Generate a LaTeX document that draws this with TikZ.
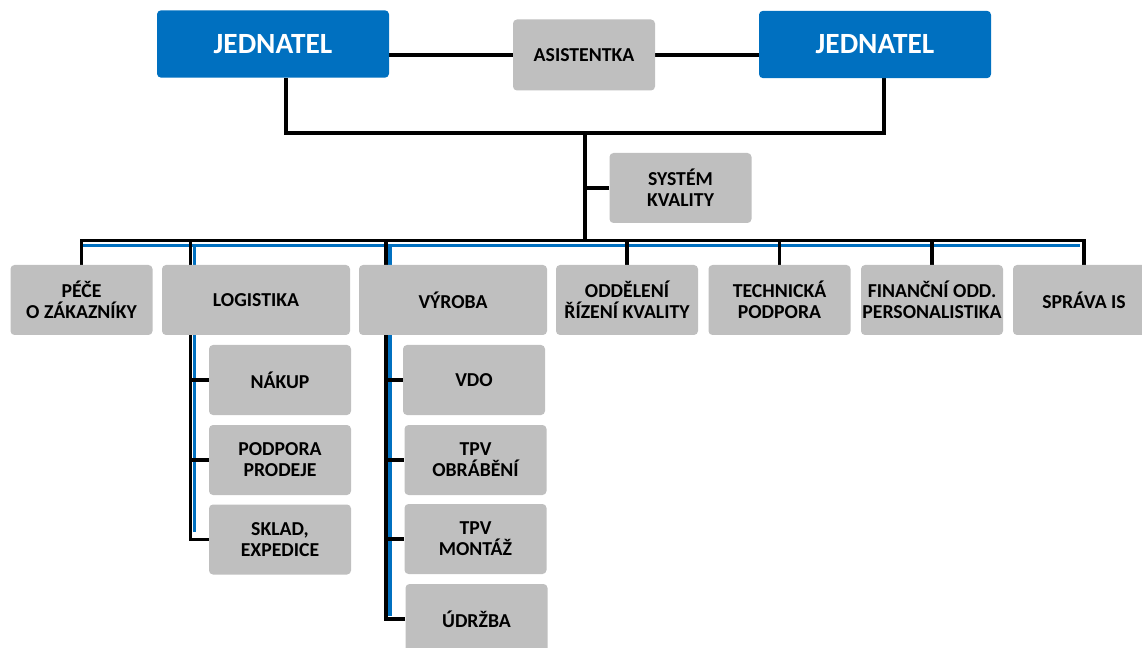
\documentclass[tikz,border=0pt]{standalone}
\usepackage{fontspec}
\setmainfont{Carlito}
\usetikzlibrary{positioning}
\usetikzlibrary{backgrounds}

\definecolor{boss}{HTML}{0070C0}
\definecolor{dept}{HTML}{BFBFBF}

\tikzset{
  unit/.style={fill=dept, rounded corners=3pt, minimum width=106.5pt, minimum height=52.5pt,
    inner sep=1pt, align=center, font=\bfseries\fontsize{14.8}{15.75}\selectfont},
  wideunit/.style={unit, minimum width=141pt},
  headbox/.style={fill=boss, text=white, rounded corners=3pt, minimum width=174pt,
    minimum height=50.5pt, font=\bfseries\fontsize{22}{26}\selectfont},
  link/.style={line width=2.3pt},
  shade/.style={line width=2.4pt, boss},
}

\begin{document}
\begin{tikzpicture}[x=0.75pt, y=-0.75pt]
\useasboundingbox (0,0) rectangle (1142,648);
\clip (0,0) rectangle (1142,648);

% top
\node[headbox] (jedL) at (273,44) {JEDNATEL};
\node[unit, minimum height=53.25pt] (asist) at (584,55) {ASISTENTKA};
\node[headbox] (jedR) at (875,44.5) {JEDNATEL};
\node[unit] (qual) at (680.5,188) {SYSTÉM\\KVALITY};

% departments
\node[unit] (pece) at (81.5,300) {PÉČE\\O ZÁKAZNÍKY};
\node[wideunit] (logist) at (256,300) {LOGISTIKA};
\node[wideunit] (vyroba) at (453,300) {VÝROBA};
\node[unit] (odd) at (627,300) {ODDĚLENÍ\\ŘÍZENÍ KVALITY};
\node[unit] (tech) at (779.5,300) {TECHNICKÁ\\PODPORA};
\node[unit] (fin) at (932,300) {FINANČNÍ ODD.\\PERSONALISTIKA};
\node[unit] (sprava) at (1084,300) {SPRÁVA IS};

% logistika
\node[unit] (nakup) at (280,380) {NÁKUP};
\node[unit] (prodej) at (280,460) {PODPORA\\PRODEJE};
\node[unit] (sklad) at (280,539.5) {SKLAD,\\EXPEDICE};

% vyroba
\node[unit] (vdo) at (474,380) {VDO};
\node[unit] (obrab) at (475.5,460) {TPV\\OBRÁBĚNÍ};
\node[unit] (montaz) at (475.5,539) {TPV\\MONTÁŽ};
\node[unit] (udrzba) at (476.5,619) {ÚDRŽBA};

\coordinate (tl) at (286,133);
\coordinate (tr) at (884,133);
\coordinate (top) at (585,133);
\coordinate (bus) at (585,240.5);
\coordinate (lv) at (190.5,240.5);
\coordinate (vv) at (386,240.5);

\begin{scope}[on background layer]
\draw[shade] ([shift={(1,5)}]pece.north |- bus) -- ([shift={(-4,5)}]sprava.north |- bus);
\draw[shade] ([shift={(4,5)}]lv) -- ([shift={(4,-8)}]sklad.west -| lv);
\draw[shade] ([shift={(4,5)}]vv) -- ([shift={(4,-3)}]udrzba.west -| vv);

\draw[link] (jedL.east |- asist) -- (asist) -- (jedR.west |- asist);
\draw[link] (jedL.south -| tl) -- (tl) -- (tr) -- (jedR.south -| tr);
\draw[link] (top) -- (bus);
\draw[link] (qual.west) -- (qual.west -| top);
\draw[link] (pece.north) |- (bus) -| (sprava.north);
\foreach \d in {odd,tech,fin}
  \draw[link] (\d.north |- bus) -- (\d.north);

\draw[link] (lv) |- (sklad.west);
\foreach \s in {nakup,prodej}
  \draw[link] (\s.west -| lv) -- (\s.west);
\draw[link] (vv) |- (udrzba.west);
\foreach \s in {vdo,obrab,montaz}
  \draw[link] (\s.west -| vv) -- (\s.west);
\end{scope}
\end{tikzpicture}
\end{document}
